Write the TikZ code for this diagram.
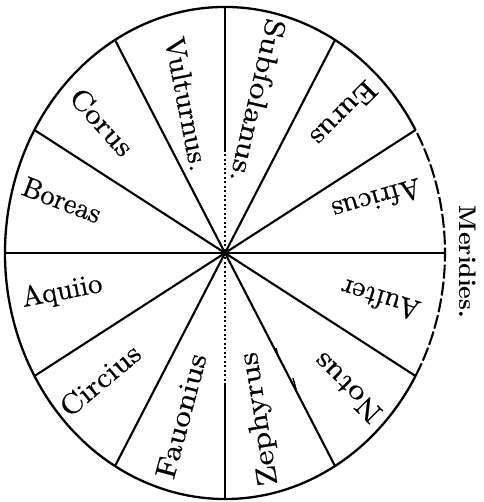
\documentclass[tikz,border=0pt]{standalone}
\usepackage{fontspec}
\newfontfamily\windfont{lmroman10-regular.otf}[FakeBold=0.7]
\newfontfamily\merfont{lmroman10-bold.otf}
\begin{document}
\begin{tikzpicture}[x=1pt,y=1pt,
  rim/.style={line width=2.3pt},
  spoke/.style={line width=2.1pt},
  dotspoke/.style={line width=1.7pt, dash pattern=on 2pt off 2.5pt},
  brokenrim/.style={line width=2.1pt, dash pattern=on 14pt off 3pt},
  wind/.style={font=\windfont\fontsize{28.5}{28.5}\selectfont, inner sep=0pt},
  tick/.style={line width=1.4pt},
]
\useasboundingbox (0,0) rectangle (483,502);
\begin{scope}[shift={(225,249)}]
  \coordinate (C) at (0,0);
  \foreach \t in {0,30,...,330} {\coordinate (e\t) at (\t:220 and 246);}
  \coordinate (topmid) at (0,103);
  \coordinate (botmid) at (0,-130);
  % rim
  \draw[rim] (e30) arc[start angle=30, end angle=330, x radius=220, y radius=246];
  \draw[brokenrim] (e330) arc[start angle=-30, end angle=30, x radius=220, y radius=246];
  % spokes
  \foreach \t in {0,30,60,120,150,180,210,240,300,330} {\draw[spoke] (C) -- (e\t);}
  \draw[spoke] (e90) -- (topmid);
  \draw[dotspoke] (topmid) -- (C);
  \draw[dotspoke] (C) -- (botmid);
  \draw[spoke] (botmid) -- (e270);
  % small marks
  \coordinate (m1) at (53,-101);
  \coordinate (m2) at (70,-131);
  \draw[tick] ([shift={(-2,6)}]m1) -- ([shift={(1,-5)}]m1);
  \draw[tick] ([shift={(-2,6)}]m2) -- ([shift={(1,-5)}]m2);
  % labels
  \node[wind, rotate=-79, xscale=1.04] (vul) at (-38,149) {Vulturnus.};
  \node[wind, rotate=-103, xscale=1.17] (sub) at (33,152) {Subſolanus.};
  \node[wind, rotate=-135, xscale=1.1] (eur) at (119,139) {Eurus};
  \node[wind, rotate=196, xscale=1.03] (afr) at (152,53) {Africus};
  \node[wind, rotate=163, xscale=1.03] (aus) at (155,-47) {Auſter};
  \node[wind, rotate=135, xscale=1.16] (not) at (122,-135) {Notus};
  \node[wind, rotate=99, xscale=1.18] (zep) at (35,-166) {Zephyrus};
  \node[wind, rotate=75, xscale=1.15] (fau) at (-44,-163) {Fauonius};
  \node[wind, rotate=40, xscale=1.1] (cir) at (-125,-127) {Circius};
  \node[wind, rotate=11, xscale=1.0] (aqu) at (-163,-39) {Aquiio};
  \node[wind, rotate=-21, xscale=0.98] (bor) at (-163,53) {Boreas};
  \node[wind, rotate=-48, xscale=1.1] (cor) at (-123,131) {Corus};
  \node[inner sep=0pt, font=\merfont\fontsize{24}{24}\selectfont, rotate=-90] (mer) at (243,-9) {Meridies.};
\end{scope}
\end{tikzpicture}
\end{document}
